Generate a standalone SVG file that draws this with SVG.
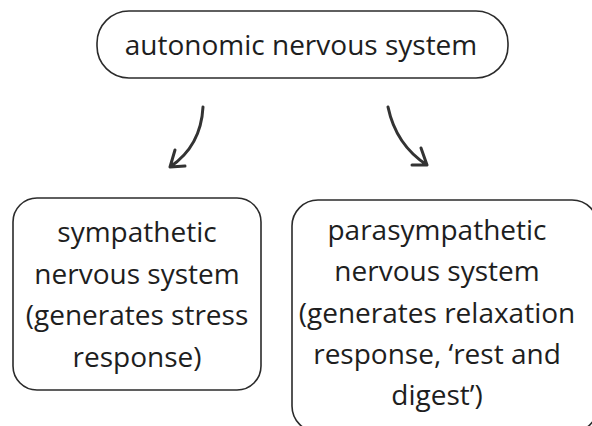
<svg xmlns="http://www.w3.org/2000/svg" width="592" height="426" viewBox="0 0 592 426">
<style>
.box{fill:#fff;stroke:#2b2b2b;stroke-width:1.6}
.t{font-family:"Open Sans","DejaVu Sans",sans-serif;font-size:28px;fill:#1e1e1e;text-anchor:middle}
.arr{fill:none;stroke:#333;stroke-width:3;stroke-linecap:round;stroke-linejoin:round}
</style>
<rect width="592" height="426" fill="#fff"/>
<g id="autonomic">
<rect class="box" x="97" y="11" width="411" height="67" rx="32"/>
<text class="t" x="301" y="55">autonomic nervous system</text>
</g>
<g id="sympathetic">
<rect class="box" x="13" y="198" width="248" height="192" rx="24"/>
<text class="t" y="242"><tspan x="137">sympathetic</tspan><tspan x="137" y="284">nervous system</tspan><tspan x="137" y="325">(generates stress</tspan><tspan x="137" y="367">response)</tspan></text>
</g>
<g id="parasympathetic">
<rect class="box" x="292" y="200" width="306" height="232" rx="26"/>
<text class="t" y="240"><tspan x="437">parasympathetic</tspan><tspan x="437" y="281">nervous system</tspan><tspan x="437" y="323">(generates relaxation</tspan><tspan x="437" y="364">response, ‘rest and</tspan><tspan x="437" y="405">digest’)</tspan></text>
</g>
<g id="connectors">
<path class="arr" d="M203,107 Q201,146 170,167 M175,150 L170,167 L185,166"/>
<path class="arr" d="M388,107 Q396,145 427,165 M421,148 L427,165 L412,165"/>
</g>
</svg>
